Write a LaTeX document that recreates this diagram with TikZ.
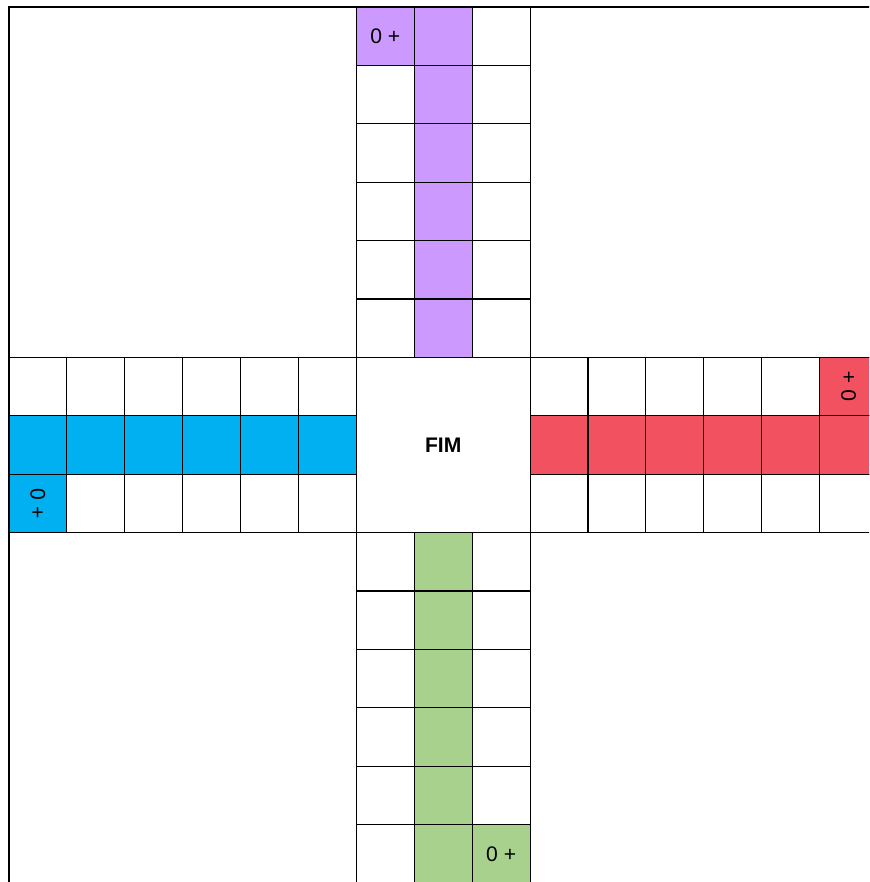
\documentclass[tikz,border=0pt]{standalone}
\usepackage{fontspec}
\setmainfont{Liberation Sans}
\usetikzlibrary{positioning}

\begin{document}
\begin{tikzpicture}[x=1.158cm, y=-1.168cm, font=\fontsize{12}{14}\selectfont]
    \definecolor{c1}{RGB}{204, 153, 255} % Purple
    \definecolor{c2}{RGB}{0, 176, 240}   % Blue
    \definecolor{c3}{RGB}{242, 82, 96}   % Red
    \definecolor{c4}{RGB}{169, 209, 142} % Green
    \tikzset{cell/.style={draw=black, line width=0.6pt}, lbl/.style={inner sep=1pt}}

    \useasboundingbox (-0.18cm, 0.14cm) rectangle (17.2cm, -17.5cm);
    \clip (-0.18cm, 0.14cm) rectangle (17.2cm, -17.5cm);

    % Board frame
    \draw[cell] (0, 0) rectangle (15, 15);

    % Arms
    \foreach \i in {0,...,5} {
        \foreach \j in {6, 7, 8} {
            \draw[cell] (\j, \i) rectangle ++(1, 1);     % top
            \draw[cell] (\j, \i+9) rectangle ++(1, 1);   % bottom
            \draw[cell] (\i, \j) rectangle ++(1, 1);     % left
            \draw[cell] (\i+9, \j) rectangle ++(1, 1);   % right
        }
        % Home columns
        \draw[cell, fill=c1] (7, \i) rectangle ++(1, 1);
        \draw[cell, fill=c4] (7, \i+9) rectangle ++(1, 1);
        \draw[cell, fill=c2] (\i, 7) rectangle ++(1, 1);
        \draw[cell, fill=c3] (\i+9, 7) rectangle ++(1, 1);
    }

    % Start cells
    \draw[cell, fill=c1] (6, 0) rectangle ++(1, 1);
    \draw[cell, fill=c4] (8, 14) rectangle ++(1, 1);
    \draw[cell, fill=c2] (0, 8) rectangle ++(1, 1);
    \draw[cell, fill=c3] (14, 6) rectangle ++(1, 1);

    \node[lbl] (purpleStart) at (6.5, 0.5) {0 +};
    \node[lbl] (greenStart) at (8.5, 14.5) {0 +};
    \node[lbl, rotate=-90] (blueStart) at (0.5, 8.5) {0 +};
    \node[lbl, rotate=90] (redStart) at (14.5, 6.5) {0 +};

    % Centre
    \draw[cell, fill=white] (6, 6) rectangle (9, 9);
    \node[font=\bfseries\fontsize{12}{14}\selectfont] (fim) at (7.5, 7.5) {FIM};
\end{tikzpicture}
\end{document}
